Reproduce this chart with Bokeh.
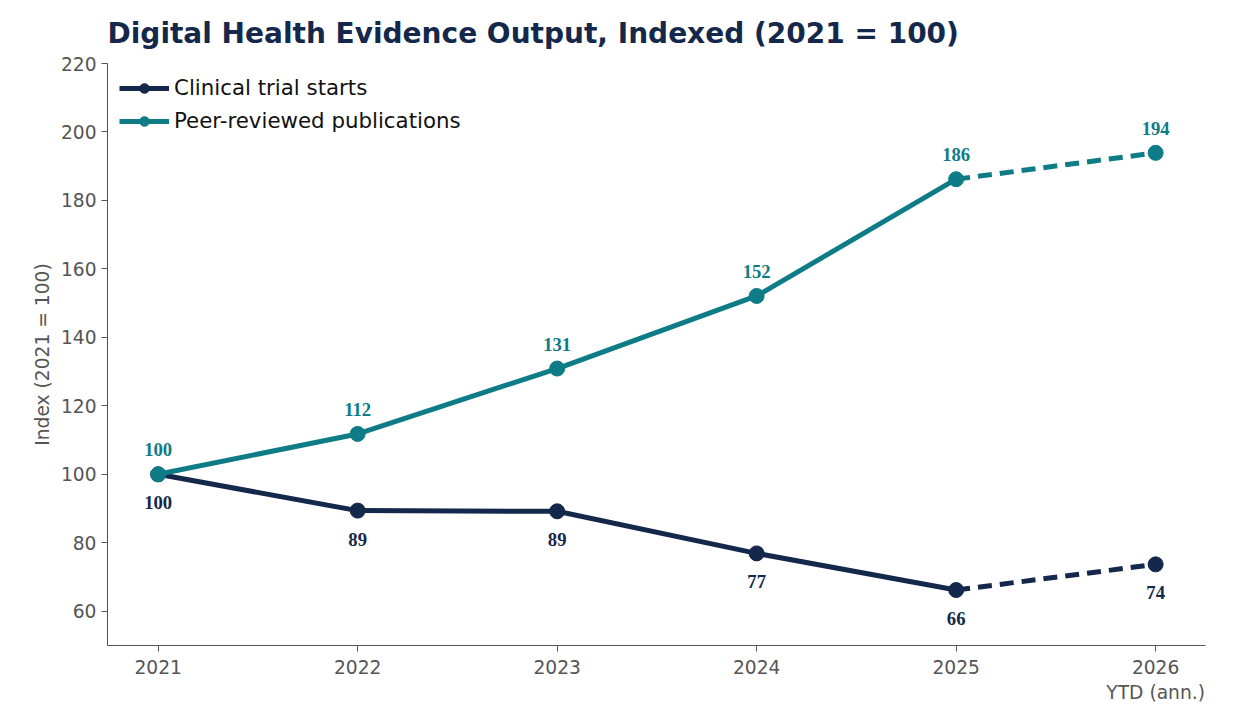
from bokeh.plotting import figure
from bokeh.models import Legend, LegendItem, FixedTicker, ColumnDataSource
from bokeh.embed import file_html
from bokeh.resources import INLINE

years = [2021, 2022, 2023, 2024, 2025, 2026]
trials = [100, 89.4, 89.2, 76.9, 66.2, 73.7]
pubs = [100, 111.8, 130.9, 152.1, 186.2, 193.9]
trial_labels = ["100", "89", "89", "77", "66", "74"]
pub_labels = ["100", "112", "131", "152", "186", "194"]
NAVY = "#14284b"
TEAL = "#0e7c86"
FONT = "DejaVu Sans"

p = figure(width=1225, height=705, output_backend="svg", toolbar_location=None,
           x_range=(2020.746, 2026.25), y_range=(50, 220),
           title="Digital Health Evidence Output, Indexed (2021 = 100)")
p.min_border_left = 107
p.min_border_right = 20
p.min_border_top = 20
p.min_border_bottom = 60
p.title.text_font = FONT
p.title.text_font_size = "21pt"
p.title.text_color = NAVY
p.title.align = "left"
p.title.offset = 0
p.title.standoff = 28
p.outline_line_color = None
p.grid.visible = False
for ax in (p.xaxis[0], p.yaxis[0]):
    ax.axis_line_color = "#555555"
    ax.major_tick_line_color = "#555555"
    ax.minor_tick_line_color = None
    ax.major_tick_in = 0
    ax.major_tick_out = 6
    ax.major_label_text_font = FONT
    ax.major_label_text_font_size = "14pt"
    ax.major_label_text_color = "#555555"
p.xaxis.ticker = FixedTicker(ticks=years)
p.xaxis.major_label_overrides = {2026: "2026\nYTD (ann.)"}
p.yaxis.ticker = FixedTicker(ticks=list(range(60, 221, 20)))
p.yaxis.axis_label = "Index (2021 = 100)"
p.yaxis.axis_label_text_font = FONT
p.yaxis.axis_label_text_font_style = "normal"
p.yaxis.axis_label_text_font_size = "14pt"
p.yaxis.axis_label_text_color = "#555555"

items = []
for vals, labs, col, name, off, base in [
        (trials, trial_labels, NAVY, "Clinical trial starts", -22, "top"),
        (pubs, pub_labels, TEAL, "Peer-reviewed publications", 18, "bottom")]:
    l1 = p.line(years[:5], vals[:5], line_color=col, line_width=5)
    p.line(years[4:], vals[4:], line_color=col, line_width=5, line_dash="14 8")
    c = p.scatter(years, vals, size=15, fill_color=col, line_color=col)
    src = ColumnDataSource(dict(x=years, y=vals, t=labs))
    p.text("x", "y", text="t", source=src, y_offset=(-off if off > 0 else 22),
           text_align="center", text_baseline=base, text_color=col,
           text_font=FONT, text_font_style="bold", text_font_size="14pt")
    items.append(LegendItem(label=name, renderers=[l1, c]))

leg = Legend(items=items, location="top_left", border_line_color=None,
             background_fill_alpha=0, label_text_font=FONT,
             label_text_color="#111111",
             label_text_font_size="16pt", glyph_width=50, glyph_height=24,
             spacing=8, margin=12)
p.add_layout(leg)

open("out.html", "w").write(file_html(p, INLINE))
